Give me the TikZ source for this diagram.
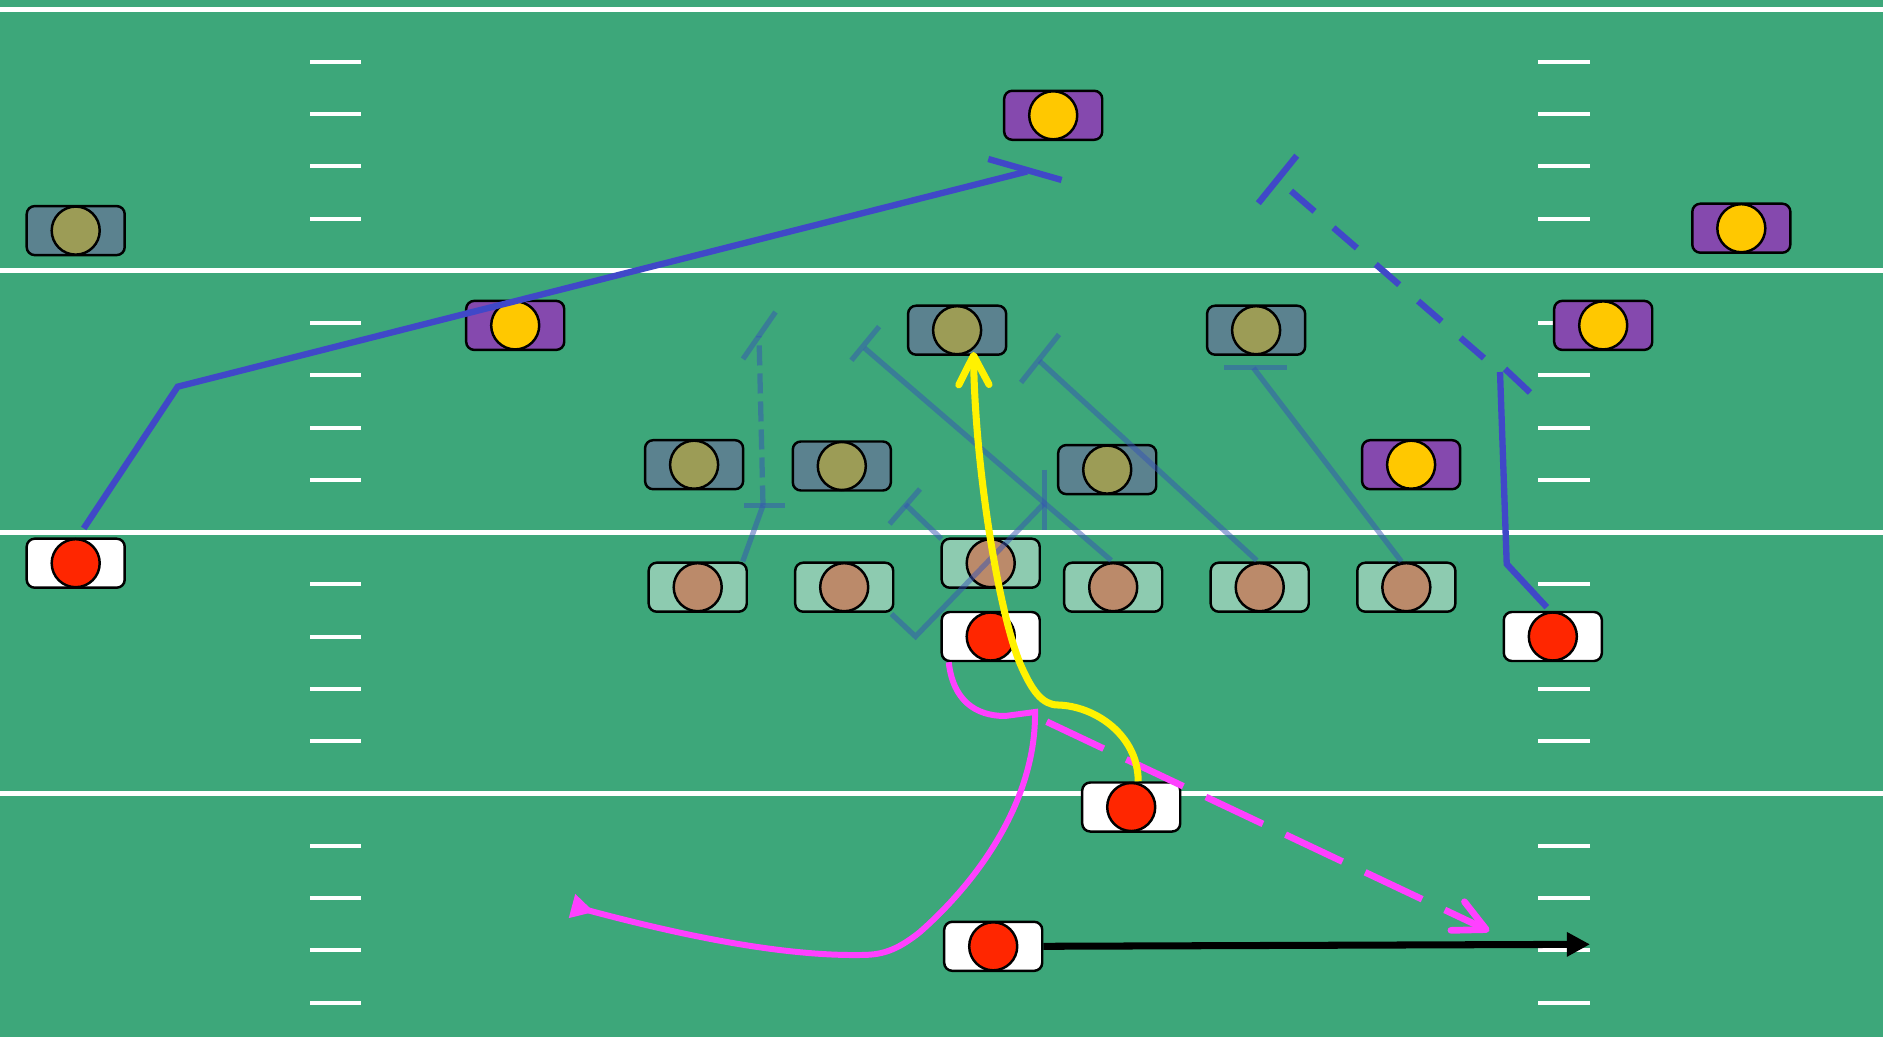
\documentclass[tikz,border=0pt]{standalone}
\usetikzlibrary{calc,
arrows.meta,
positioning}

\definecolor{turf}{RGB}{61,167,122}
\definecolor{offred}{RGB}{255,38,0}
\definecolor{olgreen}{RGB}{141,203,176}
\definecolor{olbrown}{RGB}{187,138,106}
\definecolor{lbslate}{RGB}{91,130,143}
\definecolor{lbolive}{RGB}{156,156,86}
\definecolor{dbpurple}{RGB}{133,73,174}
\definecolor{dbgold}{RGB}{255,200,0}
\definecolor{routeblue}{RGB}{64,72,200}
\definecolor{blockblue}{RGB}{55,85,180}
\definecolor{routepink}{RGB}{255,64,255}

\begin{document}
\begin{tikzpicture}[
  x=0.01cm, y=-0.01cm,
  yardline/.style={draw=white, line width=1.4pt},
  hash/.style={draw=white, line width=1.15pt},
  plbox/.style={
    draw,
    line width=0.7pt,
    rounded corners=2.3pt,
    minimum width=0.98cm,
    minimum height=0.49cm,
    inner sep=0pt},
  pldot/.style={
    draw,
    circle,
    line width=0.7pt,
    minimum size=0.48cm,
    inner sep=0pt},
  route/.style={draw=routeblue, line width=1.8pt},
  block/.style={draw=blockblue, draw opacity=0.5, line width=1.5pt},
  option/.style={draw=routepink, line width=1.7pt}
]

  \useasboundingbox (0,0) rectangle (1883,1037);
  \fill[turf] (0,0) rectangle (1883,1037);

  % field markings
  \foreach \s in {0,1,2,3} {
    \draw[yardline] (0,{9.5+261.3*\s}) -- (1883,{9.5+261.3*\s});
    \foreach \k in {1,2,3,4} {
      \pgfmathsetmacro\hy{9.5+261.3*\s+52.3*\k}
      \draw[hash] (310,\hy) -- (361,\hy);
      \draw[hash] (1538,\hy) -- (1590,\hy);
    }
  }

  % offense
  \foreach \n/\x/\y in {o1/75.7/563.2, qb/990.7/636.5, o3/1131.2/807,
                        o4/993.2/946.3, o5/1552.8/636.5} {
    \node [plbox, fill=white] (\n) at (\x,\y) {};
    \node [pldot, fill=offred] (\n dot) at (\n) {};
  }

  % line
  \foreach \n/\x/\y in {ol1/697.7/587.2, ol2/844.2/587.2, ol3/990.7/563.2,
                        ol4/1113.2/587.2, ol5/1259.7/587.2, ol6/1406.3/587.2} {
    \node [plbox, fill=olgreen] (\n) at (\x,\y) {};
    \node [pldot, fill=olbrown] (\n dot) at (\n) {};
  }

  % linebackers
  \foreach \n/\x/\y in {lb1/75.7/230.6, lb2/694.1/464.7, lb3/841.8/466,
                        lb4/957.1/330.2, lb5/1107.2/469.6, lb6/1256.1/330.2} {
    \node [plbox, fill=lbslate] (\n) at (\x,\y) {};
    \node [pldot, fill=lbolive] (\n dot) at (\n) {};
  }

  % backs
  \foreach \n/\x/\y in {db1/1053.2/115.3, db2/515.2/325.4, db3/1411.1/464.7,
                        db4/1603.2/325.4, db5/1741.3/228.2} {
    \node [plbox, fill=dbpurple] (\n) at (\x,\y) {};
    \node [pldot, fill=dbgold] (\n dot) at (\n) {};
  }

  % blocking
  \coordinate (ta) at (763,505.5);
  \coordinate (tb) at (759,336);
  \draw[block] ([shift={(45,0)}]ol1.north) -- (ta);
  \draw[block] ([shift={(-19,0)}]ta) -- ([shift={(21.5,0)}]ta);
  \draw[block, dash pattern=on 0.2cm off 0.08cm] (ta) -- (tb);
  \draw[block] ([shift={(-16,23)}]tb) -- ([shift={(16.5,-24)}]tb);

  \coordinate (tbb) at (1043.5,504);
  \draw[block] ([shift={(-3,1)}]ol2.south east) -- (915.5,636.5) -- (tbb);
  \draw[block] ([shift={(1,-34)}]tbb) -- ([shift={(1,25.5)}]tbb);

  \coordinate (tc) at (905.5,504.4);
  \draw[block] ([shift={(1,1.5)}]ol3.north west) -- (tc);
  \draw[block] ([shift={(-16,19.6)}]tc) -- ([shift={(14.5,-15.4)}]tc);

  \coordinate (td) at (864.5,348);
  \draw[block] ([shift={(-2,-1)}]ol4.north) -- (td);
  \draw[block] ([shift={(-13.1,12.3)}]td) -- ([shift={(14.6,-21.4)}]td);

  \coordinate (te) at (1039.5,361);
  \draw[block] ([shift={(-3,-1)}]ol5.north) -- (te);
  \draw[block] ([shift={(-18.5,21.5)}]te) -- ([shift={(19.5,-26.5)}]te);

  \coordinate (tf) at (1253.5,368);
  \draw[block] ([shift={(-5,0)}]ol6.north) -- (tf);
  \draw[block] ([shift={(-29.5,-0.5)}]tf) -- ([shift={(33,-0.5)}]tf);

  % outside routes
  \coordinate (b1end) at (1027,171.5);
  \draw[route] ([shift={(8,-9)}]o1.north) -- (177.7,386.7) -- (b1end);
  \draw[route] ([shift={(-38.7,-12.5)}]b1end) -- ([shift={(34.6,8.5)}]b1end);

  \coordinate (t5) at (1500,372);
  \coordinate (d5) at (1277.5,179.3);
  \draw[route] ([shift={(-6,-3.5)}]o5.north) -- (1506.7,564) -- (t5);
  \draw[route] ([shift={(5,-3)}]t5) -- ([shift={(30,20.5)}]t5);
  \draw[route, dash pattern=on 0.31cm off 0.25cm, dash phase=0.381cm] (d5) -- (t5);
  \draw[route] ([shift={(-19.2,23.9)}]d5) -- ([shift={(19.2,-23.6)}]d5);

  % quarterback option
  \coordinate (pitch) at (1046.7,721.7);
  \coordinate (flat) at (1489.3,931);
  \coordinate (wheel) at (572,906);
  \draw[option, -{Triangle[reversed, length=6.6pt, width=6.6pt]}]
    ([shift={(-42,0)}]qb.south) .. controls (953,700) and (975,716) .. (1005,716)
    -- (1035,712) .. controls (1036,790) and (990,870) .. (920,932)
    .. controls (895,952) and (880,955) .. (860,955)
    .. controls (780,956) and (680,935) .. (wheel);
  \draw[option, line width=1.9pt, dash pattern=on 0.63cm off 0.25cm,
        -{Straight Barb[round, length=9pt, width=9pt]}] (pitch) -- (flat);

  % yellow
  \coordinate (catch) at (973.5,352);
  \draw[draw=yellow, line width=2pt, -{Straight Barb[round, length=8.3pt, width=8.6pt]}]
    ([shift={(7,0)}]o3.north) .. controls (1138,735) and (1095,706) .. (1058,705)
    .. controls (1042,705) and (1032,690) .. (1022,668)
    .. controls (1000,620) and (975,470) .. (catch);

  % motion
  \coordinate (motion) at (1590,944.3);
  \draw[line width=2pt, -{Triangle[length=6.6pt, width=6.6pt]}] (o4.east) -- (motion);

\end{tikzpicture}
\end{document}
